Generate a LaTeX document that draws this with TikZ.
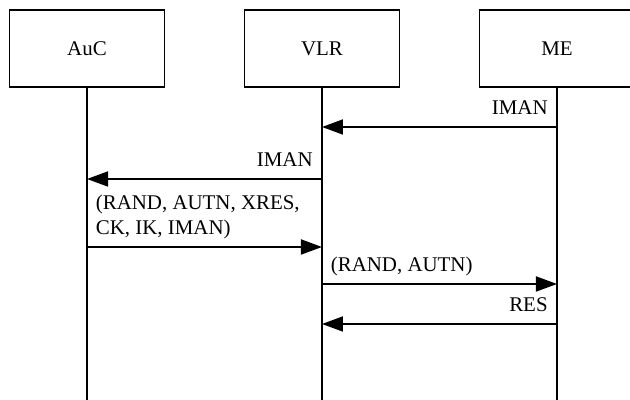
\documentclass[tikz,border=0pt]{standalone}
\usepackage{fontspec}
\setmainfont{Liberation Serif}
\usetikzlibrary{arrows.meta,calc}

\begin{document}
\begin{tikzpicture}[font=\fontsize{11.9}{14.2}\selectfont,
  >={Triangle[length=4.2mm,width=3mm]},
  entity/.style={draw,line width=0.85pt,minimum width=3.1cm,minimum height=1.54cm,inner sep=0pt},
  lifeline/.style={line width=1.7pt},
  msg/.style={->,line width=1pt},
  lbl/.style={inner sep=0pt}]
\useasboundingbox (0,0) rectangle (12.6,8);
% entities
\node[entity] (auc) at (1.74,7.03) {AuC};
\node[entity] (vlr) at (6.44,7.03) {VLR};
\node[entity] (me) at (11.14,7.03) {ME};
% lifelines
\foreach \e in {auc,vlr,me}{
  \coordinate (\e-end) at (\e.south |- 0,0);
  \draw[lifeline] (\e.south) -- (\e-end);
}
% messages
\foreach \i/\s/\t/\y in {1/me/vlr/5.46, 2/vlr/auc/4.42, 3/auc/vlr/3.06, 4/vlr/me/2.32, 5/me/vlr/1.52}{
  \coordinate (y\i) at (0,\y);
  \coordinate (m\i-s) at (\s.south |- y\i);
  \coordinate (m\i-t) at (\t.south |- y\i);
  \draw[msg] (m\i-s) -- (m\i-t);
}
% labels
\node[lbl,anchor=base east] (l1) at ($(m1-s)+(-0.18,0.24)$) {IMAN};
\node[lbl,anchor=base east] (l2) at ($(m2-s)+(-0.18,0.24)$) {IMAN};
\node[lbl,anchor=south west,align=left] (l3) at ($(m3-s)+(0.17,0.15)$) {(RAND, AUTN, XRES,\\CK, IK, IMAN)};
\node[lbl,anchor=base west] (l4) at ($(m4-s)+(0.17,0.24)$) {(RAND, AUTN)};
\node[lbl,anchor=base east] (l5) at ($(m5-s)+(-0.18,0.24)$) {RES};
\end{tikzpicture}
\end{document}
